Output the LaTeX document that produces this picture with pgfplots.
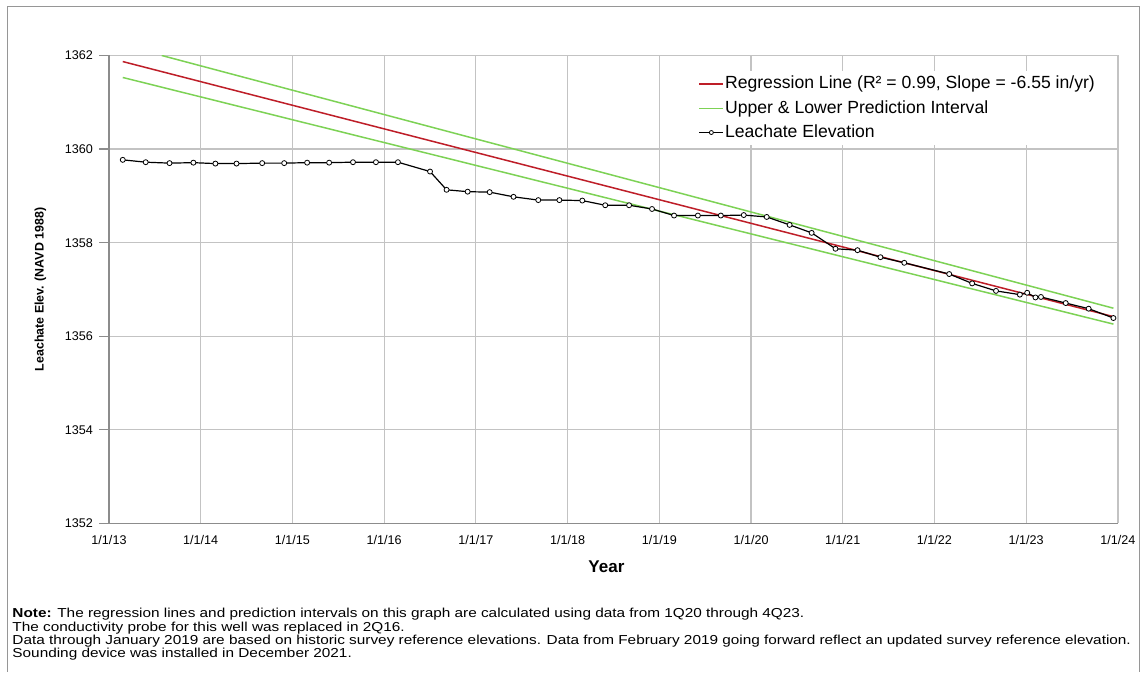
\documentclass[border=0pt]{standalone}
\usepackage{pgfplots}
\pgfplotsset{compat=1.18}
\usepackage{fontspec}
\setmainfont{Liberation Sans}
\definecolor{regred}{RGB}{190,30,40}
\definecolor{pigreen}{RGB}{125,210,85}
\definecolor{gridgray}{RGB}{195,195,195}
\definecolor{axgray}{RGB}{140,140,140}
\definecolor{framegray}{RGB}{150,150,150}
\begin{document}
\begin{tikzpicture}
\path[fill=white] (0,0) rectangle (573pt,336pt);
\draw[framegray, line width=0.5pt] (3.5pt,0pt) -- (3.5pt,332.5pt) -- (569.5pt,332.5pt) -- (569.5pt,0pt);
\begin{axis}[
  at={(54.5pt,74.25pt)}, anchor=south west,
  scale only axis, width=504.5pt, height=234pt,
  xmin=2013, xmax=2024, ymin=1352, ymax=1362,
  xtick={2013,2014,...,2024},
  xticklabels={1/1/13,1/1/14,1/1/15,1/1/16,1/1/17,1/1/18,1/1/19,1/1/20,1/1/21,1/1/22,1/1/23,1/1/24},
  ytick={1352,1354,...,1362},
  yticklabels={1352,1354,1356,1358,1360,1362},
  axis x line*=bottom, axis y line*=left,
  axis line style={axgray, line width=0.6pt},
  grid=major,
  major grid style={gridgray, line width=0.6pt},
  tick align=outside,
  xtick style={draw=none},
  ytick style={draw=axgray, line width=0.6pt},
  major tick length=5pt,
  tick label style={font=\fontsize{6.3}{7}\selectfont},
  xticklabel style={yshift=2.5pt},
  yticklabel style={xshift=0.5pt},
  xlabel={\textbf{Year}},
  xlabel style={font=\fontsize{8.5}{10}\selectfont, at={(axis description cs:0.493,0)}, anchor=center, yshift=-21.5pt},
  ylabel={\textbf{Leachate Elev. (NAVD 1988)}},
  ylabel style={font=\fontsize{6.2}{7}\selectfont, at={(axis description cs:-0.068,0.5)}, anchor=center, rotate=0},
  legend style={at={(rel axis cs:0.578,0.967)}, anchor=north west, draw=none, fill=white,
     font=\fontsize{8.8}{10}\selectfont, row sep=3.3pt,
     nodes={inner xsep=0.5pt, inner ysep=0pt, text height=6.8pt, text depth=2pt},
     inner xsep=3pt, inner ysep=2pt},
  legend cell align=left,
  legend image code/.code={\draw[#1] plot coordinates {(0pt,0pt)(12pt,0pt)};},
]
\addplot[regred, line width=0.75pt] coordinates {(2013.15,1361.87) (2023.95,1356.42)};
\addlegendentry{Regression Line (R² = 0.99, Slope = -6.55 in/yr)}
\addplot[pigreen, line width=0.75pt] coordinates {(2013.575,1362.0) (2023.95,1356.60)};
\addlegendentry{Upper \& Lower Prediction Interval}
\addplot[pigreen, line width=0.75pt, forget plot] coordinates {(2013.15,1361.53) (2023.95,1356.26)};
\addplot[black, line width=0.6pt, mark=*, mark size=1.25pt,
   mark options={fill=white, draw=black, line width=0.4pt},
   legend image code/.code={\draw[black, line width=0.6pt] (0pt,0pt) -- (12pt,0pt);
      \draw[black, fill=white, line width=0.4pt] (6pt,0pt) circle (1pt);}]
 coordinates {
 (2013.15,1359.77) (2013.40,1359.72) (2013.66,1359.70) (2013.92,1359.71)
 (2014.16,1359.69) (2014.39,1359.69) (2014.67,1359.70) (2014.91,1359.70)
 (2015.16,1359.71) (2015.40,1359.71) (2015.66,1359.72) (2015.91,1359.72)
 (2016.15,1359.72) (2016.50,1359.52) (2016.68,1359.13) (2016.91,1359.09)
 (2017.15,1359.08) (2017.41,1358.98) (2017.68,1358.91) (2017.91,1358.91)
 (2018.16,1358.90) (2018.41,1358.80) (2018.67,1358.80) (2018.92,1358.72)
 (2019.16,1358.58) (2019.42,1358.58) (2019.67,1358.58) (2019.92,1358.59)
 (2020.17,1358.55) (2020.42,1358.38) (2020.66,1358.21) (2020.92,1357.87)
 (2021.16,1357.84) (2021.41,1357.69) (2021.67,1357.57) (2022.16,1357.33)
 (2022.41,1357.13) (2022.67,1356.97) (2022.93,1356.89) (2023.01,1356.93)
 (2023.10,1356.83) (2023.16,1356.84) (2023.43,1356.71) (2023.68,1356.59)
 (2023.95,1356.39)
 };
\addlegendentry{Leachate Elevation}
\end{axis}
\begin{scope}[every node/.style={anchor=base west, inner sep=0pt, xscale=1.18, font=\fontsize{6.5}{7}\selectfont}]
\node at (6pt,27pt) {\textbf{Note:} The regression lines and prediction intervals on this graph are calculated using data from 1Q20 through 4Q23.};
\node at (6pt,20.3pt) {The conductivity probe for this well was replaced in 2Q16.};
\node at (6pt,13.6pt) {Data through January 2019 are based on historic survey reference elevations. Data from February 2019 going forward reflect an updated survey reference elevation.};
\node at (6pt,7pt) {Sounding device was installed in December 2021.};
\end{scope}
\end{tikzpicture}
\end{document}
